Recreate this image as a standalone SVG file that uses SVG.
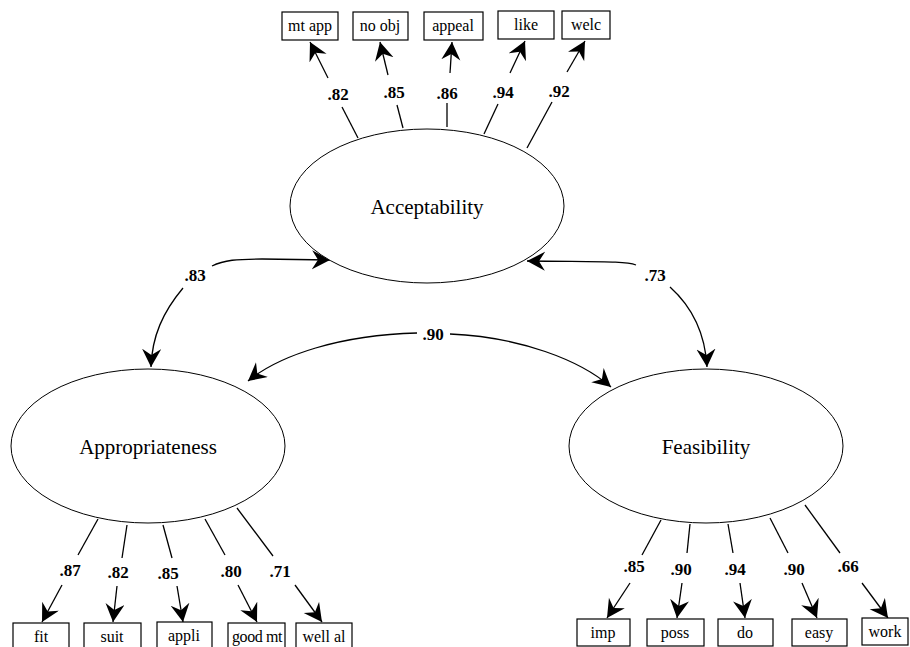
<svg xmlns="http://www.w3.org/2000/svg" width="910" height="647" viewBox="0 0 910 647">
<style>
.bg{fill:#fff}
.lat{fill:#fff;stroke:#000;stroke-width:1}
.box{fill:#fff;stroke:#000;stroke-width:1.2}
.ln{fill:none;stroke:#000;stroke-width:1.3}
.lt{font-family:"Liberation Serif",serif;font-size:21px;text-anchor:middle;fill:#000}
.bt{font-family:"Liberation Serif",serif;font-size:16px;text-anchor:middle;fill:#000}
.lb{font-family:"Liberation Serif",serif;font-size:17px;font-weight:bold;text-anchor:middle;fill:#000}
</style>
<defs>
<marker id="ah" markerUnits="userSpaceOnUse" markerWidth="22" markerHeight="22" refX="18" refY="9.5" orient="auto">
<path d="M0,0 L18,9.5 L0,19 L6,9.5 z" fill="#000"/>
</marker>
</defs>
<rect class="bg" x="0" y="0" width="910" height="647"/>
<g id="connectors">
<line class="ln" x1="358" y1="138" x2="342" y2="107"/>
<line class="ln" x1="328" y1="78" x2="310" y2="42" marker-end="url(#ah)"/>
<line class="ln" x1="403" y1="128" x2="397" y2="105"/>
<line class="ln" x1="388" y1="75" x2="380" y2="42" marker-end="url(#ah)"/>
<line class="ln" x1="447" y1="127" x2="447" y2="103"/>
<line class="ln" x1="450" y1="73" x2="452" y2="42" marker-end="url(#ah)"/>
<line class="ln" x1="484" y1="134" x2="498" y2="104"/>
<line class="ln" x1="510" y1="73" x2="525" y2="41" marker-end="url(#ah)"/>
<line class="ln" x1="527" y1="148" x2="552" y2="102"/>
<line class="ln" x1="567" y1="72" x2="585" y2="41" marker-end="url(#ah)"/>
<line class="ln" x1="98" y1="519" x2="78" y2="555"/>
<line class="ln" x1="62" y1="585" x2="42" y2="622" marker-end="url(#ah)"/>
<line class="ln" x1="127" y1="525" x2="122" y2="558"/>
<line class="ln" x1="117" y1="586" x2="113" y2="622" marker-end="url(#ah)"/>
<line class="ln" x1="163" y1="525" x2="172" y2="558"/>
<line class="ln" x1="177" y1="586" x2="183" y2="622" marker-end="url(#ah)"/>
<line class="ln" x1="205" y1="519" x2="225" y2="555"/>
<line class="ln" x1="238" y1="585" x2="257" y2="622" marker-end="url(#ah)"/>
<line class="ln" x1="237" y1="508" x2="273" y2="556"/>
<line class="ln" x1="295" y1="585" x2="322" y2="622" marker-end="url(#ah)"/>
<line class="ln" x1="661" y1="520" x2="642" y2="555"/>
<line class="ln" x1="630" y1="583" x2="607" y2="618" marker-end="url(#ah)"/>
<line class="ln" x1="690" y1="524" x2="687" y2="553"/>
<line class="ln" x1="682" y1="583" x2="677" y2="618" marker-end="url(#ah)"/>
<line class="ln" x1="728" y1="524" x2="733" y2="553"/>
<line class="ln" x1="740" y1="583" x2="745" y2="618" marker-end="url(#ah)"/>
<line class="ln" x1="770" y1="518" x2="788" y2="553"/>
<line class="ln" x1="802" y1="583" x2="817" y2="618" marker-end="url(#ah)"/>
<line class="ln" x1="805" y1="505" x2="840" y2="553"/>
<line class="ln" x1="862" y1="583" x2="888" y2="618" marker-end="url(#ah)"/>
<path class="ln" d="M212,266 C224,260 237,259 262,259 L330,260" marker-end="url(#ah)"/>
<path class="ln" d="M183,288 C163,312 152,336 151,367" marker-end="url(#ah)"/>
<path class="ln" d="M636,265 C625,261 600,262 527,261" marker-end="url(#ah)"/>
<path class="ln" d="M670,287 C690,305 705,330 707,367" marker-end="url(#ah)"/>
<path class="ln" d="M417,333 C340,335 280,355 248,381" marker-end="url(#ah)"/>
<path class="ln" d="M450,334 C520,337 580,360 611,387" marker-end="url(#ah)"/>
</g>
<g id="labels">
<text class="lb" x="338" y="100">.82</text>
<text class="lb" x="394" y="98">.85</text>
<text class="lb" x="447" y="99">.86</text>
<text class="lb" x="503" y="98">.94</text>
<text class="lb" x="559" y="97">.92</text>
<text class="lb" x="70" y="576">.87</text>
<text class="lb" x="118" y="578">.82</text>
<text class="lb" x="168" y="579">.85</text>
<text class="lb" x="231" y="577">.80</text>
<text class="lb" x="280" y="577">.71</text>
<text class="lb" x="634" y="572">.85</text>
<text class="lb" x="681" y="575">.90</text>
<text class="lb" x="735" y="575">.94</text>
<text class="lb" x="794" y="575">.90</text>
<text class="lb" x="848" y="572">.66</text>
<text class="lb" x="195" y="281">.83</text>
<text class="lb" x="655" y="281">.73</text>
<text class="lb" x="433" y="340">.90</text>
</g>
<g id="acceptability">
<ellipse class="lat" cx="427" cy="206" rx="137" ry="77"/>
<text class="lt" x="427" y="214">Acceptability</text>
</g>
<g id="appropriateness">
<ellipse class="lat" cx="148" cy="446" rx="137" ry="77"/>
<text class="lt" x="148" y="454">Appropriateness</text>
</g>
<g id="feasibility">
<ellipse class="lat" cx="706" cy="446" rx="137" ry="77"/>
<text class="lt" x="706" y="454">Feasibility</text>
</g>
<g id="mt-app"><rect class="box" x="282" y="12" width="56" height="28"/><text class="bt" x="310" y="31">mt app</text></g>
<g id="no-obj"><rect class="box" x="353" y="12" width="55" height="28"/><text class="bt" x="380" y="31">no obj</text></g>
<g id="appeal"><rect class="box" x="424" y="12" width="59" height="28"/><text class="bt" x="453" y="31">appeal</text></g>
<g id="like"><rect class="box" x="498" y="11" width="56" height="28"/><text class="bt" x="526" y="30">like</text></g>
<g id="welc"><rect class="box" x="562" y="11" width="48" height="28"/><text class="bt" x="586" y="30">welc</text></g>
<g id="fit"><rect class="box" x="13" y="623" width="56" height="30"/><text class="bt" x="41" y="642">fit</text></g>
<g id="suit"><rect class="box" x="84" y="623" width="57" height="30"/><text class="bt" x="112" y="642">suit</text></g>
<g id="appli"><rect class="box" x="157" y="622" width="55" height="30"/><text class="bt" x="184" y="641">appli</text></g>
<g id="goodmt"><rect class="box" x="228" y="623" width="57" height="30"/><text class="bt" x="257" y="642" style="letter-spacing:-0.4px">good mt</text></g>
<g id="wellal"><rect class="box" x="296" y="623" width="56" height="30"/><text class="bt" x="324" y="642">well al</text></g>
<g id="imp"><rect class="box" x="577" y="619" width="53" height="27"/><text class="bt" x="603" y="638">imp</text></g>
<g id="poss"><rect class="box" x="647" y="619" width="57" height="27"/><text class="bt" x="675" y="638">poss</text></g>
<g id="do"><rect class="box" x="718" y="619" width="55" height="27"/><text class="bt" x="745" y="638">do</text></g>
<g id="easy"><rect class="box" x="792" y="619" width="55" height="27"/><text class="bt" x="819" y="638">easy</text></g>
<g id="work"><rect class="box" x="862" y="618" width="46" height="27"/><text class="bt" x="885" y="637">work</text></g>
</svg>
